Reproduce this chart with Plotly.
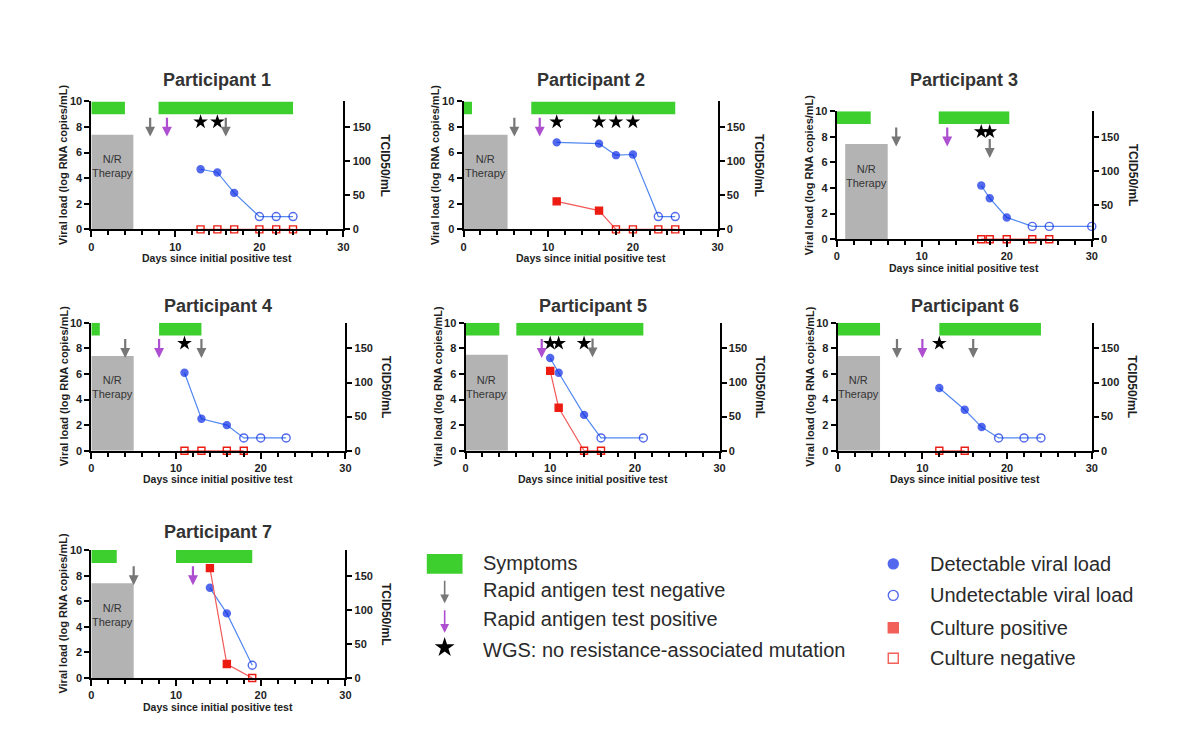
import plotly.graph_objects as go

# ---------------- data ----------------
PARTICIPANTS = ["Participant 1", "Participant 2", "Participant 3", "Participant 4",
                "Participant 5", "Participant 6", "Participant 7"]

SYMPTOM_START = [[0, 8], [0, 8], [0, 12], [0, 8], [0, 6], [0, 12], [0, 10]]
SYMPTOM_END = [[4, 24], [1, 25], [4, 20.3], [1, 13], [4, 21], [5, 24], [3, 19]]

THERAPY_START = [0, 0, 1, 0, 0, 0, 0]
THERAPY_END = [5, 5.2, 6, 5, 5, 5, 5]
THERAPY_TOP = [7.4, 7.4, 7.45, 7.4, 7.5, 7.4, 7.4]

RAT_NEG_DAYS = [[7, 16], [6], [7, 18], [4, 13], [15], [7, 16], [5]]
RAT_NEG_TOP = [[8.85, 8.85], [8.85], [8.85, 7.95], [8.85, 8.85], [8.9], [8.85, 8.85], [8.85]]
RAT_POS_DAYS = [[9], [9], [13], [8], [9], [10], [12]]
WGS_DAYS = [[13, 15], [11, 16, 18, 20], [17, 18], [11], [10, 11, 14], [12], []]
WGS_LEVEL = 8.4

VL_DAYS = [[13, 15, 17, 20, 22, 24], [11, 16, 18, 20, 23, 25], [17, 18, 20, 23, 25, 30],
           [11, 13, 16, 18, 20, 23], [10, 11, 14, 16, 21], [12, 15, 17, 19, 22, 24], [14, 16, 19]]
VL_LOG = [[4.7, 4.45, 2.85, 1, 1, 1], [6.8, 6.7, 5.8, 5.85, 1, 1], [4.2, 3.2, 1.7, 1, 1, 1],
          [6.1, 2.5, 2.0, 1, 1, 1], [7.25, 6.1, 2.8, 1, 1], [4.9, 3.2, 1.85, 1, 1, 1], [7.05, 5.05, 1]]
VL_DETECT = [[1, 1, 1, 0, 0, 0], [1, 1, 1, 1, 0, 0], [1, 1, 1, 0, 0, 0],
             [1, 1, 1, 0, 0, 0], [1, 1, 1, 0, 0], [1, 1, 1, 0, 0, 0], [1, 1, 0]]

CUL_DAYS = [[13, 15, 17, 20, 22, 24], [11, 16, 18, 20, 23, 25], [17, 18, 20, 23, 25],
            [11, 13, 16, 18], [10, 11, 14, 16], [12, 15], [14, 16, 19]]
CUL_TCID = [[0, 0, 0, 0, 0, 0], [41, 27.5, 0, 0, 0, 0], [0, 0, 0, 0, 0],
            [0, 0, 0, 0], [117, 63, 0, 0], [0, 0], [161, 20.5, 0]]
CUL_POS = [[0, 0, 0, 0, 0, 0], [1, 1, 0, 0, 0, 0], [0, 0, 0, 0, 0],
           [0, 0, 0, 0], [1, 1, 0, 0], [0, 0], [1, 1, 0]]

LEGEND_LEFT = ["Symptoms", "Rapid antigen test negative", "Rapid antigen test positive",
               "WGS: no resistance-associated mutation"]
LEGEND_RIGHT = ["Detectable viral load", "Undetectable viral load", "Culture positive",
                "Culture negative"]

# ---------------- layout geometry (pixels) ----------------
W, H = 1200, 745
# x0px, x30px, y10px(top), y0px(bottom)
PANELS = [(89, 343, 97, 227), (464, 720, 97, 227), (840, 1097, 107, 237),
          (89, 345, 322, 452), (466, 722, 322, 452), (841, 1097, 322, 452),
          (89, 345, 553, 683)]
TITLE_Y = [75, 75, 75, 305, 305, 305, 535]

FONT = "Liberation Sans, Arial, Helvetica, sans-serif"
GREEN = "#3dcf2e"
GRAYBOX = "#b3b3b3"
GRAYARROW = "#777777"
PURPLE = "#ad4fd0"
BLUE = "#0a2be6"
BLUE_LINE = "#5288f0"
RED = "#ec1c12"
RED_LINE = "#f25a5a"
TXT = "#1e1e1e"

def px(x):
    return x / W

def py(y):
    return 1 - y / H

def ann(**kw):
    kw.setdefault("xanchor", "center")
    kw.setdefault("yanchor", "middle")
    return kw

fig = go.Figure()
shapes = []
annotations = []
layout = {}

ARROW = dict(text="", showarrow=True, arrowhead=2, arrowsize=0.9, arrowwidth=2.2)

for i in range(7):
    n = i + 1
    xa = "x" if n == 1 else f"x{n}"
    ya = "y" if n == 1 else f"y{n}"
    yr = f"y{n + 7}"
    x0, x1, yt, yb = PANELS[i]

    axline = dict(showline=True, linecolor="black", linewidth=2, showgrid=False, zeroline=False,
                  ticks="outside", tickcolor="black", tickwidth=2,
                  tickfont=dict(family=FONT, size=11, color=TXT, weight="bold"))
    layout["xaxis" if n == 1 else f"xaxis{n}"] = dict(
        domain=[px(x0), px(x1)], anchor=ya, range=[0, 30], tick0=0, dtick=10,
        ticklen=6, minor=dict(dtick=2, ticks="outside", ticklen=4, tickwidth=1.5, tickcolor="black"),
        fixedrange=True, **axline)
    layout["yaxis" if n == 1 else f"yaxis{n}"] = dict(
        domain=[py(yb), py(yt)], anchor=xa, range=[0, 10], tick0=0, dtick=2,
        ticklen=5, fixedrange=True, **axline)
    layout[f"yaxis{n + 7}"] = dict(
        domain=[py(yb), py(yt)], anchor=xa, overlaying=ya, side="right", range=[0, 187.5],
        tick0=0, dtick=50, ticklen=5, fixedrange=True, **axline)

    # symptoms bars
    for s, e in zip(SYMPTOM_START[i], SYMPTOM_END[i]):
        shapes.append(dict(type="rect", xref=xa, yref=ya, x0=s, x1=e, y0=9, y1=10,
                           fillcolor=GREEN, line=dict(width=0), layer="below"))
    # therapy box
    shapes.append(dict(type="rect", xref=xa, yref=ya, x0=THERAPY_START[i], x1=THERAPY_END[i],
                       y0=0, y1=THERAPY_TOP[i], fillcolor=GRAYBOX, line=dict(width=0), layer="below"))
    annotations.append(ann(xref=xa, yref=ya, x=(THERAPY_START[i] + THERAPY_END[i]) / 2, y=4.95,
                           text="N/R<br>Therapy", showarrow=False,
                           font=dict(family=FONT, size=11, color="#333333")))
    # arrows
    for d, top in zip(RAT_NEG_DAYS[i], RAT_NEG_TOP[i]):
        annotations.append(dict(xref=xa, yref=ya, axref=xa, ayref=ya, x=d, y=top - 1.6, ax=d, ay=top,
                                arrowcolor=GRAYARROW, **ARROW))
    for d in RAT_POS_DAYS[i]:
        annotations.append(dict(xref=xa, yref=ya, axref=xa, ayref=ya, x=d, y=7.25, ax=d, ay=8.85,
                                arrowcolor=PURPLE, **ARROW))
    # stars
    if WGS_DAYS[i]:
        fig.add_trace(go.Scatter(x=WGS_DAYS[i], y=[WGS_LEVEL] * len(WGS_DAYS[i]), xaxis=xa, yaxis=ya,
                                 mode="markers", marker=dict(symbol="star", size=11, color="black",
                                                             line=dict(width=0)),
                                 showlegend=False, cliponaxis=False, hoverinfo="skip"))
    # culture (right axis)
    fig.add_trace(go.Scatter(x=CUL_DAYS[i], y=CUL_TCID[i], xaxis=xa, yaxis=yr, mode="lines+markers",
                             line=dict(color=RED_LINE, width=1.2),
                             marker=dict(symbol=["square" if p else "square-open" for p in CUL_POS[i]],
                                         size=7, color=RED, line=dict(color=RED, width=1.4)),
                             showlegend=False, cliponaxis=False))
    # viral load
    fig.add_trace(go.Scatter(x=VL_DAYS[i], y=VL_LOG[i], xaxis=xa, yaxis=ya, mode="lines+markers",
                             line=dict(color=BLUE_LINE, width=1.2),
                             marker=dict(symbol=["circle" if d else "circle-open" for d in VL_DETECT[i]],
                                         size=[7 if d else 8 for d in VL_DETECT[i]],
                                         color=BLUE, line=dict(color=BLUE, width=1.4)),
                             showlegend=False, cliponaxis=False))

    # titles
    annotations.append(ann(xref="paper", yref="paper", x=px((x0 + x1) / 2), y=py(TITLE_Y[i]),
                           text=f"<b>{PARTICIPANTS[i]}</b>", showarrow=False,
                           font=dict(family=FONT, size=18, color="#333333")))
    annotations.append(ann(xref="paper", yref="paper", x=px((x0 + x1) / 2), y=py(yb + 29),
                           text="<b>Days since initial positive test</b>", showarrow=False,
                           font=dict(family=FONT, size=10.5, color=TXT)))
    annotations.append(ann(xref="paper", yref="paper", x=px(x0 - 28), y=py((yt + yb) / 2),
                           text="<b>Viral load (log RNA copies/mL)</b>", showarrow=False, textangle=-90,
                           font=dict(family=FONT, size=11, color=TXT)))
    annotations.append(ann(xref="paper", yref="paper", x=px(x1 + 41), y=py((yt + yb) / 2),
                           text="<b>TCID50/mL</b>", showarrow=False, textangle=90,
                           font=dict(family=FONT, size=12, color=TXT)))

# ---------------- custom legend (own hidden axes over the legend area only) ----------------
LX0, LX1, LY0, LY1 = 400, 1200, 540, 680
layout["xaxis8"] = dict(domain=[px(LX0), px(LX1)], range=[LX0, LX1], visible=False,
                        fixedrange=True, anchor="y15")
layout["yaxis15"] = dict(domain=[py(LY1), py(LY0)], range=[LY1, LY0], visible=False,
                         fixedrange=True, anchor="x8")

shapes.append(dict(type="rect", xref="paper", yref="paper", x0=px(427), x1=px(463),
                   y0=py(577), y1=py(557), fillcolor=GREEN, line=dict(width=0)))
annotations.append(dict(xref="paper", yref="paper", x=px(445), y=py(607), ax=0, ay=-24,
                        text="", showarrow=True, arrowhead=2, arrowsize=1.1, arrowwidth=1.6,
                        arrowcolor=GRAYARROW))
annotations.append(dict(xref="paper", yref="paper", x=px(445), y=py(637), ax=0, ay=-24,
                        text="", showarrow=True, arrowhead=2, arrowsize=1.1, arrowwidth=1.6,
                        arrowcolor=PURPLE))
fig.add_trace(go.Scatter(x=[445], y=[652], xaxis="x8", yaxis="y15", mode="markers",
                         marker=dict(symbol="star", size=15, color="black", line=dict(width=0)),
                         showlegend=False, hoverinfo="skip", cliponaxis=False))
LEFT_Y = [566, 594, 623, 655]
for t, yy in zip(LEGEND_LEFT, LEFT_Y):
    annotations.append(ann(xref="paper", yref="paper", x=px(482), y=py(yy), text=t, showarrow=False,
                           xanchor="left", font=dict(family=FONT, size=20, color="#2a2a2a")))

RIGHT_Y = [567, 599, 632, 663]
fig.add_trace(go.Scatter(x=[897] * 4, y=RIGHT_Y, xaxis="x8", yaxis="y15", mode="markers",
                         marker=dict(symbol=["circle", "circle-open", "square", "square-open"],
                                     size=[10, 10, 10, 10], color=[BLUE, BLUE, RED, RED],
                                     line=dict(color=[BLUE, BLUE, RED, RED], width=1.4)),
                         showlegend=False, hoverinfo="skip", cliponaxis=False))
for t, yy in zip(LEGEND_RIGHT, RIGHT_Y):
    annotations.append(ann(xref="paper", yref="paper", x=px(932), y=py(yy), text=t, showarrow=False,
                           xanchor="left", font=dict(family=FONT, size=20, color="#2a2a2a")))

fig.update_layout(width=W, height=H, margin=dict(l=0, r=0, t=0, b=0), autosize=False,
                  plot_bgcolor="rgba(0,0,0,0)", paper_bgcolor="white", showlegend=False,
                  shapes=shapes, annotations=annotations, **layout)

fig.write_html("out.html")
